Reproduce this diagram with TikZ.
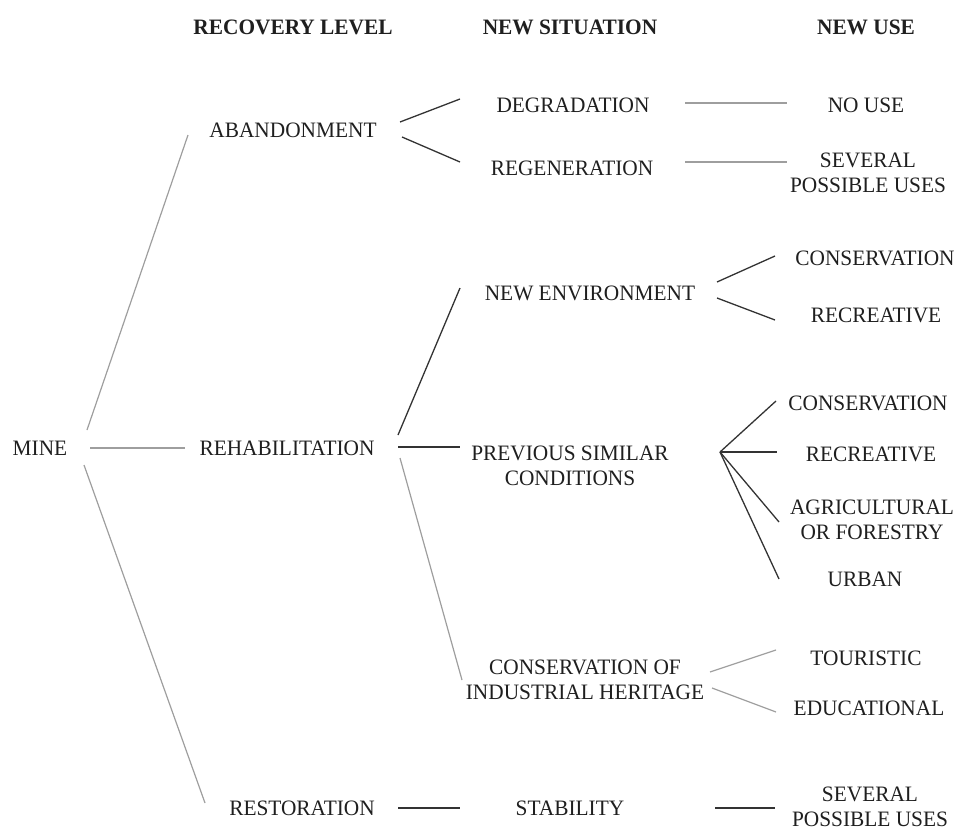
\documentclass[tikz,border=0pt]{standalone}
\usepackage{fontspec}
\setmainfont{Liberation Serif}[FakeStretch=0.97]
\begin{document}
\begin{tikzpicture}[x=1pt, y=-1pt,
  lbl/.style={align=center, inner sep=0pt, text=black!88,
    font=\fontsize{22}{25}\selectfont},
  head/.style={lbl, font=\fontsize{22}{25}\selectfont\bfseries},
  dk/.style={draw=black!80, line width=1.3pt},
  lt/.style={draw=black!38, line width=1.2pt},
]
\useasboundingbox (0,0) rectangle (963,830);

% column headings
\node[head] (h1) at (293,27) {RECOVERY LEVEL};
\node[head] (h2) at (570,27) {NEW SITUATION};
\node[head] (h3) at (866,27) {NEW USE};

% root
\node[lbl] (mine) at (40,448) {MINE};

% recovery level
\node[lbl] (aband)  at (293,130) {ABANDONMENT};
\node[lbl] (rehab)  at (287,448) {REHABILITATION};
\node[lbl] (restor) at (302,808) {RESTORATION};

% new situation
\node[lbl] (degr)    at (573,105) {DEGRADATION};
\node[lbl] (regen)   at (572,168) {REGENERATION};
\node[lbl] (newenv)  at (590,293) {NEW ENVIRONMENT};
\node[lbl] (prev)    at (570,466) {PREVIOUS SIMILAR\\CONDITIONS};
\node[lbl] (consind) at (585,680) {CONSERVATION OF\\INDUSTRIAL HERITAGE};
\node[lbl] (stab)    at (570,808) {STABILITY};

% new use
\node[lbl] (nouse) at (866,105) {NO USE};
\node[lbl] (sev1)  at (868,173) {SEVERAL\\POSSIBLE USES};
\node[lbl] (cons1) at (875,258) {CONSERVATION};
\node[lbl] (recr1) at (876,315) {RECREATIVE};
\node[lbl] (cons2) at (868,403) {CONSERVATION};
\node[lbl] (recr2) at (871,454) {RECREATIVE};
\node[lbl] (agri)  at (872,520) {AGRICULTURAL\\OR FORESTRY};
\node[lbl] (urban) at (865,579) {URBAN};
\node[lbl] (tour)  at (866,658) {TOURISTIC};
\node[lbl] (educ)  at (869,708) {EDUCATIONAL};
\node[lbl] (sev2)  at (870,807) {SEVERAL\\POSSIBLE USES};

% mine -> recovery level
\draw[lt] ([shift={(47,-18)}]mine.center) -- ([shift={(-105,5)}]aband.center);
\draw[lt] ([shift={(50,0)}]mine.center)   -- ([shift={(-102,0)}]rehab.center);
\draw[lt] ([shift={(44,17)}]mine.center)  -- ([shift={(-97,-5)}]restor.center);

% abandonment
\draw[dk] ([shift={(107,-8)}]aband.center) -- ([shift={(-113,-6)}]degr.center);
\draw[dk] ([shift={(109,7)}]aband.center)  -- ([shift={(-112,-6)}]regen.center);
\draw[lt] ([shift={(112,-2)}]degr.center)  -- ([shift={(-79,-2)}]nouse.center);
\draw[lt] ([shift={(113,-6)}]regen.center) -- ([shift={(-81,-11)}]sev1.center);

% rehabilitation
\draw[dk] ([shift={(111,-13)}]rehab.center) -- ([shift={(-130,-5)}]newenv.center);
\draw[dk] ([shift={(111,-1)}]rehab.center)  -- ([shift={(-110,-19)}]prev.center);
\draw[lt] ([shift={(113,10)}]rehab.center)  -- ([shift={(-123,0)}]consind.center);

\draw[dk] ([shift={(127,-11)}]newenv.center) -- ([shift={(-100,-2)}]cons1.center);
\draw[dk] ([shift={(127,5)}]newenv.center)   -- ([shift={(-101,5)}]recr1.center);

\coordinate (fan) at ([shift={(150,-14)}]prev.center);
\draw[dk] (fan) -- ([shift={(-92,-2)}]cons2.center);
\draw[dk] (fan) -- ([shift={(-94,-2)}]recr2.center);
\draw[dk] (fan) -- ([shift={(-93,2)}]agri.center);
\draw[dk] (fan) -- ([shift={(-86,0)}]urban.center);

\draw[lt] ([shift={(125,-8)}]consind.center) -- ([shift={(-90,-8)}]tour.center);
\draw[lt] ([shift={(127,8)}]consind.center)  -- ([shift={(-93,4)}]educ.center);

% restoration
\draw[dk] ([shift={(96,0)}]restor.center) -- ([shift={(-110,0)}]stab.center);
\draw[dk] ([shift={(145,0)}]stab.center)  -- ([shift={(-95,1)}]sev2.center);
\end{tikzpicture}
\end{document}
